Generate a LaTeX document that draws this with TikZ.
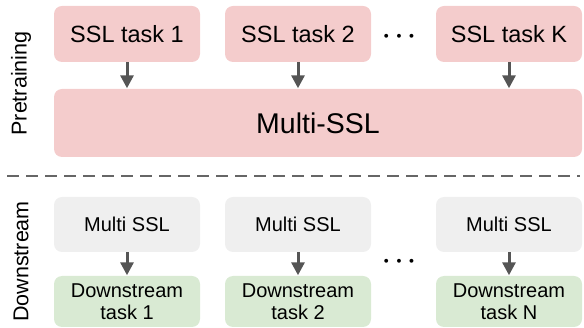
\documentclass[tikz,border=0pt]{standalone}
\usepackage{fontspec}
\setmainfont{Liberation Sans}
\usetikzlibrary{arrows.meta}
\definecolor{pinkfill}{HTML}{F4CCCC}
\definecolor{grayfill}{HTML}{EFEFEF}
\definecolor{greenfill}{HTML}{D9EAD3}
\definecolor{arrowgray}{HTML}{555555}
\definecolor{dashgray}{HTML}{666666}
\tikzset{
  box/.style={rounded corners=8pt, inner sep=0pt, align=center, text=black},
  pinkbox/.style={box, fill=pinkfill, minimum width=146pt, minimum height=56pt, font=\fontsize{23.5}{26}\selectfont},
  bigbox/.style={box, fill=pinkfill, minimum width=528pt, minimum height=68pt, font=\fontsize{28.5}{32}\selectfont},
  graybox/.style={box, fill=grayfill, minimum width=146pt, minimum height=55pt, font=\fontsize{20}{22}\selectfont},
  greenbox/.style={box, fill=greenfill, minimum width=146pt, minimum height=51pt, font=\fontsize{20}{22}\selectfont},
  flow/.style={draw=arrowgray, line width=3pt, -{Triangle[length=13pt,width=13pt]}, shorten >=0.5pt},
  sidelabel/.style={rotate=90, font=\fontsize{21.5}{24}\selectfont, inner sep=0pt},
  dotslabel/.style={font=\fontsize{27}{30}\selectfont\boldmath, inner sep=0pt, text=black}
}
\begin{document}
\begin{tikzpicture}[x=1pt,y=-1pt]
\useasboundingbox (0,0) rectangle (584,328);
% pretraining
\node[pinkbox] (t1) at (127,34) {SSL task 1};
\node[pinkbox] (t2) at (298,34) {SSL task 2};
\node[pinkbox] (tK) at (509,34) {SSL task K};
\node[dotslabel] (dtop) at (399,36.5) {$\cdots$};
\node[bigbox] (mssl) at (318,123) {Multi-SSL};
\draw[flow] (t1.south) -- (t1.south |- mssl.north);
\draw[flow] (t2.south) -- (t2.south |- mssl.north);
\draw[flow] (tK.south) -- (tK.south |- mssl.north);
\node[sidelabel] (pre) at (21,83.5) {Pretraining};
% separator
\coordinate (sepL) at (7,176);
\coordinate (sepR) at (580,176);
\draw[dashgray, line width=2pt, dash pattern=on 12pt off 7pt] (sepL) -- (sepR);
% downstream
\node[graybox] (m1) at (127,224.5) {Multi SSL};
\node[graybox] (m2) at (298,224.5) {Multi SSL};
\node[graybox] (mN) at (509,224.5) {Multi SSL};
\node[greenbox] (d1) at (127,301.5) {Downstream\\task 1};
\node[greenbox] (d2) at (298,301.5) {Downstream\\task 2};
\node[greenbox] (dN) at (509,301.5) {Downstream\\task N};
\node[dotslabel] (dbot) at (399,262) {$\cdots$};
\draw[flow] (m1) -- (d1);
\draw[flow] (m2) -- (d2);
\draw[flow] (mN) -- (dN);
\node[sidelabel] (down) at (21,261.5) {Downstream};
\end{tikzpicture}
\end{document}
